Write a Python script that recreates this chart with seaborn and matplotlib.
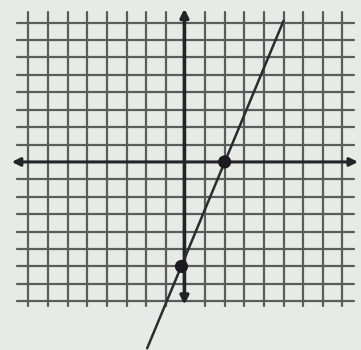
import matplotlib
matplotlib.use("Agg")
import matplotlib.pyplot as plt
import seaborn as sns
import numpy as np
import pandas as pd

# data
grid_vals = [-8, -7, -6, -5, -4, -3, -2, -1, 1, 2, 3, 4, 5, 6, 7, 8]
line_x = [-1.95, 5.0]
line_y = [-10.7, 8.1]
point_x = [2.0, -0.2]
point_y = [0.0, -6.0]

sns.set_theme(style="white")
fig = plt.figure(figsize=(3.61, 3.5), dpi=100)
fig.patch.set_facecolor("#e6e8e3")
ax = fig.add_axes([0, 0, 1, 1])
ax.set_facecolor("#e8eae5")
ax.set_xlim(-9.45, 8.95)
ax.set_ylim(-10.8, 9.3)
for s in ax.spines.values():
    s.set_visible(False)
ax.set_xticks([])
ax.set_yticks([])

gc = "#5a5d5c"
for v in grid_vals:
    ax.plot([v, v], [-8.3, 8.6], color=gc, lw=1.6, zorder=1)
    ax.plot([-8.6, 8.6], [v, v], color=gc, lw=1.6, zorder=1)

ac = "#222428"
# axes with arrows
ax.annotate("", xy=(-8.85, 0), xytext=(8.8, 0),
            arrowprops=dict(arrowstyle="<|-|>", color=ac, lw=2.2,
                            mutation_scale=12, shrinkA=0, shrinkB=0), zorder=3)
ax.annotate("", xy=(-0.05, 8.8), xytext=(-0.05, -8.2),
            arrowprops=dict(arrowstyle="<|-|>", color=ac, lw=2.6,
                            mutation_scale=12, shrinkA=0, shrinkB=0), zorder=3)

df_line = pd.DataFrame({"x": line_x, "y": line_y})
sns.lineplot(data=df_line, x="x", y="y", ax=ax, color="#2a2c30", lw=1.8,
             sort=False, zorder=4)
df_pts = pd.DataFrame({"x": point_x, "y": point_y})
sns.scatterplot(data=df_pts, x="x", y="y", ax=ax, color="#1e1a22", s=90,
                edgecolor="none", zorder=5)
ax.set_xlabel("")
ax.set_ylabel("")
fig.savefig("out.png", dpi=100, facecolor=fig.get_facecolor())
